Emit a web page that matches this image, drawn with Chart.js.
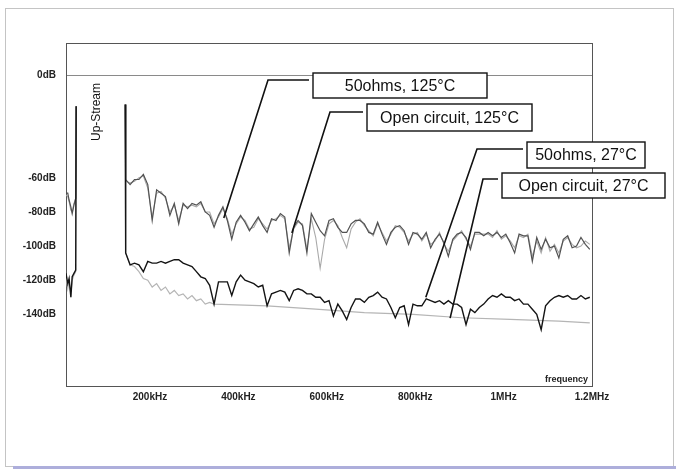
<!DOCTYPE html>
<html>
<head>
<meta charset="utf-8">
<script src="https://cdn.jsdelivr.net/npm/chart.js@4.4.1/dist/chart.umd.min.js"></script>
<style>
  html, body { margin: 0; padding: 0; background: #fff; }
  #frame { position: absolute; left: 5px; top: 8px; width: 667px; height: 457px; border: 1px solid #c4c4c4; }
  #strip { position: absolute; left: 13px; right: 0; top: 466px; height: 3px; background: #adaedb; }
  #chart { position: absolute; left: 0; top: 0; }
</style>
</head>
<body>
<div id="frame"></div>
<div id="strip"></div>
<canvas id="chart" width="676" height="469"></canvas>
<script>
// frequencies in kHz, levels in dB
const freq = [145,155,165,175,185,195,205,215,225,235,245,255,265,275,285,295,305,315,325,335,
  345,355,365,375,385,395,405,415,425,435,445,455,465,475,485,495,505,515,525,535,
  545,555,565,575,585,595,605,615,625,635,645,655,665,675,685,695,705,715,725,735,
  745,755,765,775,785,795,805,815,825,835,845,855,865,875,885,895,905,915,925,935,
  945,955,965,975,985,995,1005,1015,1025,1035,1045,1055,1065,1075,1085,1095,1105,1115,1125,1135,
  1145,1155,1165,1175,1185,1195]

const ohm125 = [-61,-64,-61,-61,-58,-64,-85,-67,-69,-71,
  -82,-75,-87,-75,-78,-75,-76,-74,-80,-82,
  -89,-82,-77,-85,-96,-86,-82,-86,-91,-87,
  -83,-88,-92,-84,-85,-81,-83,-104,-89,-85,
  -88,-104,-81,-86,-91,-94,-85,-84,-89,-92,
  -92,-87,-85,-85,-87,-92,-93,-86,-93,-99,
  -92,-89,-88,-91,-99,-92,-93,-96,-92,-101,
  -96,-93,-98,-106,-96,-93,-92,-95,-102,-92,
  -92,-94,-92,-94,-92,-95,-93,-98,-104,-93,
  -94,-94,-109,-95,-102,-96,-101,-100,-107,-96,
  -94,-101,-100,-95,-99,-102]

const open125 = [-62,-63,-62,-60,-59,-66,-83,-69,-68,-72,
  -80,-76,-85,-76,-77,-76,-77,-75,-80,-80,
  -87,-83,-78,-84,-93,-87,-83,-85,-90,-89,
  -84,-87,-90,-85,-84,-82,-84,-101,-90,-86,
  -87,-102,-84,-95,-113,-96,-87,-85,-88,-95,
  -101,-90,-86,-84,-88,-91,-94,-87,-92,-97,
  -93,-88,-89,-92,-97,-93,-92,-97,-93,-99,
  -97,-92,-99,-103,-97,-94,-91,-96,-100,-93,
  -93,-93,-93,-95,-91,-96,-94,-97,-101,-94,
  -95,-93,-106,-97,-104,-95,-103,-99,-104,-97,
  -95,-99,-101,-100,-97,-99]

const ohm27 = [-104,-111,-110,-111,-115,-109,-110,-110,-109,-110,
  -109,-108,-108,-110,-111,-112,-115,-118,-119,-123,
  -134,-121,-121,-121,-129,-121,-117,-120,-121,-122,
  -124,-123,-135,-128,-127,-126,-127,-132,-126,-125,
  -126,-128,-128,-130,-130,-133,-132,-141,-134,-138,
  -143,-136,-131,-131,-133,-130,-129,-127,-130,-131,
  -136,-142,-136,-135,-146,-134,-135,-135,-131,-132,
  -133,-132,-134,-132,-134,-134,-136,-146,-137,-139,
  -136,-134,-131,-129,-130,-128,-130,-130,-132,-131,
  -134,-134,-137,-140,-149,-135,-132,-130,-129,-130,
  -129,-131,-131,-129,-131,-130]

const open27 = [-104,-111,-112,-115,-119,-120,-124,-122,-126,-124,
  -128,-126,-129,-128,-131,-129,-132,-131,-134,-133,
  -134,null,null,null,null,null,null,null,null,null,
  null,null,-135,null,null,null,null,null,null,null,
  null,null,null,-137,null,null,null,null,null,null,
  null,null,null,null,-139,null,null,null,null,null,
  null,null,null,null,null,-140,null,null,null,null,
  null,null,null,null,null,null,-142,null,null,null,
  null,null,null,null,null,null,null,-143,null,null,
  null,null,null,null,null,null,null,null,-144,null,
  null,null,null,null,null,-145]

// below the up-stream band
const lowFreq = [10, 14, 17, 21, 24, 28, 32]
const ohm125Low = [-69, -69, -73, -77, -81, -76, -72]
const open125Low = [-70, -71, -74, -79, -80, -75, -72]
const ohm27Low = [-116, -122, -119, -130, -118, -116, -114]
const open27Low = [-118, -125, -121, -128, -120, -117, -115]

// up-stream band edges (kHz) and their peaks (dB)
const bandEdges = [33, 144]
const bandPeaks = [-18, -17]

const seriesNames = ['50ohms, 125°C', 'Open circuit, 125°C', '50ohms, 27°C', 'Open circuit, 27°C']

const yTicks = [0, -60, -80, -100, -120, -140]
const yTickLabels = ['0dB', '-60dB', '-80dB', '-100dB', '-120dB', '-140dB']
const xTicks = [200, 400, 600, 800, 1000, 1200]
const xTickLabels = ['200kHz', '400kHz', '600kHz', '800kHz', '1MHz', '1.2MHz']

function buildSeries(low, main) {
  const pts = low.map((v, i) => ({ x: lowFreq[i], y: v }))
  pts.push({ x: bandEdges[0], y: bandPeaks[0] })
  pts.push({ x: (bandEdges[0] + bandEdges[1]) / 2, y: null })
  pts.push({ x: bandEdges[1], y: bandPeaks[1] })
  main.forEach((v, i) => {
    if (v !== null) pts.push({ x: freq[i], y: v })
  })
  return pts
}

// callouts: box in canvas px, pointer tip in data units
const callouts = [
  { text: seriesNames[0], box: [313, 73, 174, 25], lineY: 80, elbowX: 268, tip: [367, -83.5] },
  { text: seriesNames[1], box: [367, 104, 165, 27], lineY: 112, elbowX: 330, tip: [521, -92.4] },
  { text: seriesNames[2], box: [527, 142, 118, 26], lineY: 149, elbowX: 477, tip: [824, -130] },
  { text: seriesNames[3], box: [502, 173, 163, 25], lineY: 179, elbowX: 483, tip: [879, -142.2] },
]

const FONT = '"Liberation Sans", Arial, sans-serif'

const framePlugin = {
  id: 'frame',
  beforeDatasetsDraw(chart) {
    const { ctx, chartArea: a, scales: { y } } = chart
    ctx.save()
    ctx.strokeStyle = '#8a8a8a'
    ctx.lineWidth = 1
    const y0 = Math.round(y.getPixelForValue(0)) + 0.5
    ctx.beginPath()
    ctx.moveTo(a.left, y0)
    ctx.lineTo(a.right, y0)
    ctx.stroke()
    ctx.strokeStyle = '#555'
    ctx.strokeRect(a.left + 0.5, a.top + 0.5, a.right - a.left, a.bottom - a.top)
    ctx.restore()
  },
  afterDraw(chart) {
    const { ctx, scales: { x, y } } = chart
    ctx.save()
    ctx.fillStyle = '#222'
    ctx.font = 'bold 10px ' + FONT
    ctx.textAlign = 'right'
    ctx.textBaseline = 'middle'
    yTicks.forEach((v, i) => ctx.fillText(yTickLabels[i], 56, y.getPixelForValue(v)))
    ctx.textAlign = 'center'
    ctx.textBaseline = 'top'
    xTicks.forEach((v, i) => ctx.fillText(xTickLabels[i], x.getPixelForValue(v), 392))

    ctx.font = 'bold 9px ' + FONT
    ctx.textAlign = 'right'
    ctx.textBaseline = 'middle'
    ctx.fillText('frequency', 588, 380)

    ctx.save()
    ctx.translate(97, 112)
    ctx.rotate(-Math.PI / 2)
    ctx.font = '12px ' + FONT
    ctx.fillStyle = '#111'
    ctx.textAlign = 'center'
    ctx.fillText('Up-Stream', 0, 0)
    ctx.restore()

    callouts.forEach(c => {
      const [bx, by, bw, bh] = c.box
      ctx.strokeStyle = '#111'
      ctx.lineWidth = 1.6
      ctx.beginPath()
      ctx.moveTo(bx - 4, c.lineY)
      ctx.lineTo(c.elbowX, c.lineY)
      ctx.lineTo(x.getPixelForValue(c.tip[0]), y.getPixelForValue(c.tip[1]))
      ctx.stroke()
      ctx.fillStyle = '#fff'
      ctx.fillRect(bx, by, bw, bh)
      ctx.lineWidth = 1.4
      ctx.strokeRect(bx, by, bw, bh)
      ctx.fillStyle = '#111'
      ctx.font = '16px ' + FONT
      ctx.textAlign = 'center'
      ctx.textBaseline = 'middle'
      ctx.fillText(c.text, bx + bw / 2, by + bh / 2 + 1)
    })
    ctx.restore()
  }
}

new Chart(document.getElementById('chart'), {
  type: 'line',
  data: {
    datasets: [
      { label: seriesNames[2], data: buildSeries(ohm27Low, ohm27), borderColor: '#141414', borderWidth: 1.4 },
      { label: seriesNames[0], data: buildSeries(ohm125Low, ohm125), borderColor: '#525252', borderWidth: 1.2 },
      { label: seriesNames[3], data: buildSeries(open27Low, open27), borderColor: '#b5b5b5', borderWidth: 1.2 },
      { label: seriesNames[1], data: buildSeries(open125Low, open125), borderColor: '#a9a9a9', borderWidth: 1.1 },
    ]
  },
  options: {
    responsive: false,
    animation: false,
    spanGaps: false,
    layout: { padding: { left: 66, top: 43, right: 84, bottom: 83 } },
    plugins: { legend: { display: false }, tooltip: { enabled: false } },
    elements: { point: { radius: 0 }, line: { tension: 0, fill: false } },
    scales: {
      x: { type: 'linear', min: 10, max: 1200, display: false },
      y: { type: 'linear', min: -182, max: 19, display: false }
    }
  },
  plugins: [framePlugin]
})
</script>
</body>
</html>
